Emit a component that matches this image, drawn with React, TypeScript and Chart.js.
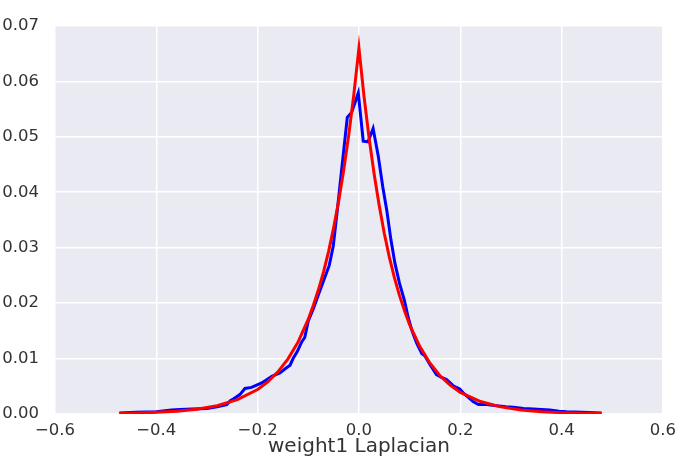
import React, { useEffect, useRef } from "react";
import { Chart, registerables } from "chart.js";

Chart.register(...registerables);

// Empirical density (blue)
const blueX = [
  -0.473, -0.44, -0.4, -0.37, -0.353, -0.33, -0.3, -0.28, -0.261, -0.254, -0.248, -0.235,
  -0.225, -0.212, -0.192, -0.172, -0.156, -0.145, -0.136, -0.13, -0.122, -0.113, -0.107,
  -0.1, -0.09, -0.08, -0.07, -0.0586, -0.0507, -0.043, -0.034, -0.023, -0.0145,
  -0.0013, 0.0085, 0.018, 0.028, 0.038, 0.047, 0.055, 0.063, 0.071, 0.08, 0.09, 0.097,
  0.104, 0.114, 0.124, 0.13, 0.141, 0.153, 0.163, 0.173, 0.186, 0.199, 0.207, 0.216,
  0.226, 0.236, 0.252, 0.272, 0.29, 0.305, 0.325, 0.344, 0.36, 0.377, 0.395, 0.41, 0.44,
  0.479,
];
const blueY = [
  0.0002, 0.0003, 0.0004, 0.0007, 0.0008, 0.0009, 0.001, 0.0013, 0.0017, 0.0024, 0.0027,
  0.0035, 0.0046, 0.0048, 0.0056, 0.0068, 0.0074, 0.0082, 0.0088, 0.01, 0.0112, 0.013,
  0.0138, 0.0168, 0.019, 0.0215, 0.024, 0.0268, 0.0303, 0.0365, 0.0442, 0.0535,
  0.0544, 0.0579, 0.0492, 0.0491, 0.0515, 0.0466, 0.041, 0.0367, 0.0315, 0.0272, 0.0236,
  0.0204, 0.0175, 0.0152, 0.0128, 0.0109, 0.0105, 0.0088, 0.0071, 0.0066, 0.0062, 0.0051,
  0.0045, 0.0037, 0.003, 0.0022, 0.0017, 0.0017, 0.0015, 0.0013, 0.0012, 0.001, 0.0009,
  0.0008, 0.0007, 0.0005, 0.0004, 0.0003, 0.0002,
];

// Laplacian fit (red)
const redX = [
  -0.473, -0.44, -0.4, -0.36, -0.32, -0.28, -0.24, -0.2, -0.18, -0.16, -0.14, -0.12, -0.1,
  -0.09, -0.08, -0.07, -0.06, -0.05, -0.04, -0.03, -0.02, -0.01, 0, 0.01, 0.02, 0.03, 0.04,
  0.05, 0.06, 0.07, 0.08, 0.09, 0.1, 0.12, 0.14, 0.16, 0.18, 0.2, 0.24, 0.28, 0.32, 0.36,
  0.4, 0.44, 0.479,
];
const redY = [
  0.00011, 0.00017, 0.0003, 0.00051, 0.00087, 0.0015, 0.00258, 0.00442, 0.0058, 0.0076,
  0.00995, 0.013, 0.0171, 0.0196, 0.0224, 0.0256, 0.0293, 0.0336, 0.0384, 0.044, 0.0504,
  0.0577, 0.066, 0.0573, 0.0498, 0.0433, 0.0376, 0.0326, 0.0283, 0.0246, 0.0214, 0.0186,
  0.0161, 0.0122, 0.0092, 0.0069, 0.0052, 0.0039, 0.00225, 0.00128, 0.00073, 0.00041,
  0.00024, 0.00013, 0.00008,
];

const xTicks = [-0.6, -0.4, -0.2, 0.0, 0.2, 0.4, 0.6];
const yTicks = [0, 0.01, 0.02, 0.03, 0.04, 0.05, 0.06, 0.07];
const xTitle = "weight1 Laplacian";

const FONT = "'DejaVu Sans', sans-serif";
const TEXT = "#333333";

const bgPlugin = {
  id: "plotBg",
  beforeDraw(chart: any) {
    const { ctx, chartArea } = chart;
    if (!chartArea) return;
    ctx.save();
    ctx.fillStyle = "#EAEAF2";
    ctx.fillRect(
      chartArea.left,
      chartArea.top,
      chartArea.right - chartArea.left,
      chartArea.bottom - chartArea.top
    );
    ctx.restore();
  },
};

export default function App() {
  const ref = useRef<HTMLCanvasElement | null>(null);

  useEffect(() => {
    if (!ref.current) return;
    const fmtX = (v: number) => {
      const n = Math.abs(v) < 1e-9 ? 0 : v;
      return n.toFixed(1).replace("-", "\u2212");
    };
    const chart = new Chart(ref.current, {
      type: "line",
      data: {
        datasets: [
          {
            label: "Laplacian",
            data: redX.map((x, i) => ({ x, y: redY[i] })),
            borderColor: "#FF0000",
            borderWidth: 3,
            pointRadius: 0,
            tension: 0,
            fill: false,
          },
          {
            label: "weight1",
            data: blueX.map((x, i) => ({ x, y: blueY[i] })),
            borderColor: "#0000FF",
            borderWidth: 3,
            pointRadius: 0,
            tension: 0,
            fill: false,
          },
        ],
      },
      options: {
        animation: false,
        responsive: false,
        devicePixelRatio: 1,
        layout: { padding: { top: 12, right: 20, left: 0, bottom: 0 } },
        plugins: {
          legend: { display: false },
          tooltip: { enabled: false },
        },
        scales: {
          x: {
            type: "linear",
            min: xTicks[0],
            max: xTicks[xTicks.length - 1],
            afterFit: (s: any) => {
              s.height = 43;
            },
            afterBuildTicks: (s: any) => {
              s.ticks = xTicks.map((v) => ({ value: v }));
            },
            ticks: {
              callback: (v: any) => fmtX(Number(v)),
              font: { family: FONT, size: 16.5 },
              color: TEXT,
              padding: 7,
              maxRotation: 0,
              autoSkip: false,
            },
            grid: { color: "#FFFFFF", lineWidth: 1.5, drawTicks: false },
            border: { display: false },
            title: {
              display: true,
              text: xTitle,
              font: { family: FONT, size: 20, lineHeight: 1 },
              color: TEXT,
              padding: { top: 0, bottom: 0 },
            },
          },
          y: {
            type: "linear",
            min: yTicks[0],
            max: yTicks[yTicks.length - 1],
            afterFit: (s: any) => {
              s.width = 55;
            },
            afterBuildTicks: (s: any) => {
              s.ticks = yTicks.map((v) => ({ value: v }));
            },
            ticks: {
              callback: (v: any) => Number(v).toFixed(2),
              font: { family: FONT, size: 16.5 },
              color: TEXT,
              padding: 16,
              autoSkip: false,
            },
            grid: { color: "#FFFFFF", lineWidth: 1.5, drawTicks: false },
            border: { display: false },
          },
        },
      },
      plugins: [bgPlugin],
    });
    return () => chart.destroy();
  }, []);

  return (
    <div
      style={{
        position: "fixed",
        left: 0,
        top: 0,
        width: 683,
        height: 457,
        background: "#FFFFFF",
      }}
    >
      <canvas ref={ref} width={683} height={457} style={{ display: "block" }} />
    </div>
  );
}
